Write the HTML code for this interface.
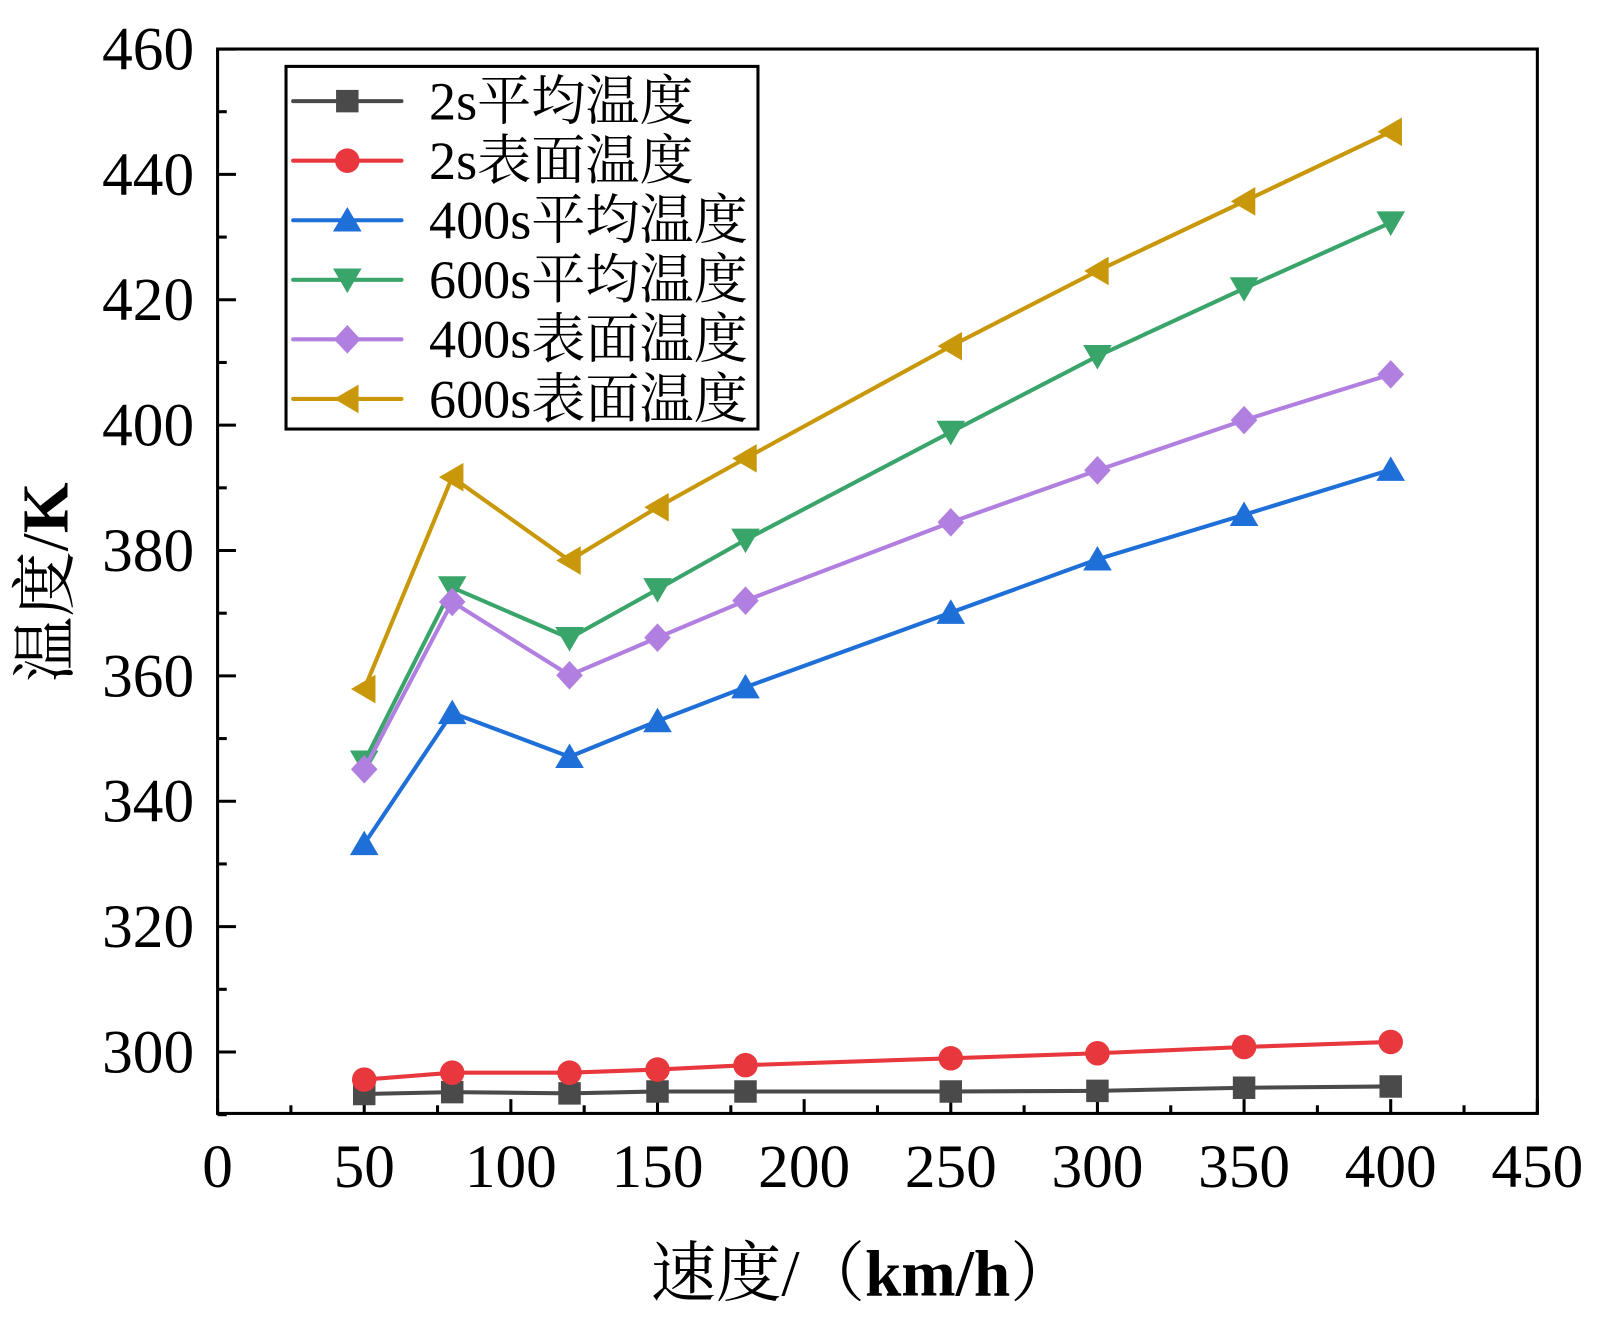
<!DOCTYPE html>
<html><head><meta charset="utf-8"><style>
html,body{margin:0;padding:0;background:#fff}
svg{display:block}
text{font-family:"Liberation Serif","Noto Serif CJK SC",serif}
</style></head><body>
<svg id="chart" width="1600" height="1321" viewBox="0 0 1600 1321">
<g transform="scale(1.0215)">
<g id="axes"></g>
<g id="series"></g>
<g id="legend"></g>
<text x="845" y="1268" font-size="64" text-anchor="middle">速度/（<tspan font-weight="bold">km/h</tspan>）</text>
<text transform="translate(66,570) rotate(-90)" font-size="64" text-anchor="middle">温度/<tspan font-weight="bold">K</tspan></text>
</g>
</svg>
<script>
const speeds=[50,80,120,150,180,250,300,350,400];
const avg2s=[293.3,293.6,293.4,293.7,293.7,293.7,293.8,294.3,294.5];
const surf2s=[295.6,296.7,296.7,297.2,297.9,299.0,299.8,300.8,301.6];
const avg400s=[333.2,354.1,347.1,352.8,358.2,370.1,378.6,385.7,392.9];
const avg600s=[346.3,374.1,366.0,373.8,381.7,398.9,411.0,421.8,432.3];
const surf400s=[345.1,371.8,360.1,366.1,372.0,384.5,392.8,400.8,408.1];
const surf600s=[357.9,391.7,378.4,386.9,394.7,412.6,424.6,435.7,446.8];
const seriesNames=["2s平均温度","2s表面温度","400s平均温度","600s平均温度","400s表面温度","600s表面温度"];
const xTicks=[0,50,100,150,200,250,300,350,400,450];
const yTicks=[300,320,340,360,380,400,420,440,460];
const NS="http://www.w3.org/2000/svg";
const L=213,R=1505,T=48,B=1090;
const xMin=0,xMax=450,yMin=290.2,yMax=460;
const sx=v=>L+(v-xMin)/(xMax-xMin)*(R-L);
const sy=v=>B-(v-yMin)/(yMax-yMin)*(B-T);
function mk(tag,at,parent){const e=document.createElementNS(NS,tag);for(const k in at)e.setAttribute(k,at[k]);parent.appendChild(e);return e;}
const axes=document.getElementById('axes');
let fr=mk('rect',{x:L,y:T,width:R-L,height:B-T,fill:'none',stroke:'#000','stroke-width':3},axes);


xTicks.forEach(v=>{
  let t=mk('line',{x1:sx(v),x2:sx(v),y1:B,y2:B-14,stroke:'#000','stroke-width':3},axes);
  
  
  if(v<450){
  let m=mk('line',{x1:sx(v+25),x2:sx(v+25),y1:B,y2:B-8,stroke:'#000','stroke-width':3},axes);
  
  }
  let tx=mk('text',{x:sx(v),y:1162,'font-size':60,'text-anchor':'middle'},axes);tx.textContent=v;
  
  
});
yTicks.forEach(v=>{
  let t=mk('line',{x1:L,x2:L+18,y1:sy(v),y2:sy(v),stroke:'#000','stroke-width':3},axes);
  
  
  let m=mk('line',{x1:L,x2:L+9,y1:sy(v-10),y2:sy(v-10),stroke:'#000','stroke-width':3},axes);
  
  
  let tx=mk('text',{x:190,y:sy(v)+20,'font-size':60,'text-anchor':'end'},axes);tx.textContent=v;
  
  
});
const colors=['#4a4a4a','#e8383d','#1f6fd8','#3aa56a','#b07fe0','#c9980a'];
const shapes=['square','circle','up','down','diamond','left'];
const data=[avg2s,surf2s,avg400s,avg600s,surf400s,surf600s];
function marker(shape,x,y,c,p){
  const s=13;let pts;
  if(shape==='square')return mk('rect',{x:x-11,y:y-11,width:22,height:22,fill:c},p);
  if(shape==='circle')return mk('circle',{cx:x,cy:y,r:12,fill:c},p);
  if(shape==='up')pts=[[x,y-s],[x+s+1,y+s-2],[x-s-1,y+s-2]];
  if(shape==='down')pts=[[x,y+s],[x+s+1,y-s+2],[x-s-1,y-s+2]];
  if(shape==='diamond')pts=[[x,y-s-1],[x+s,y],[x,y+s+1],[x-s,y]];
  if(shape==='left')pts=[[x-s,y],[x+s-2,y-s-1],[x+s-2,y+s+1]];
  return mk('polygon',{points:pts.map(q=>q.join(',')).join(' '),fill:c},p);
}
const sg=document.getElementById('series');
data.forEach((arr,i)=>{
  const g=mk('g',{},sg);
  
  
  let pl=mk('polyline',{points:arr.map((v,j)=>sx(speeds[j])+','+sy(v)).join(' '),fill:'none',stroke:colors[i],'stroke-width':4},g);
  
  
  arr.forEach((v,j)=>{let m=marker(shapes[i],sx(speeds[j]),sy(v),colors[i],g);
    
    });
});
const lg=document.getElementById('legend');
let lb=mk('rect',{x:280,y:65,width:462,height:355,fill:'#fff',stroke:'#000','stroke-width':3},lg);


seriesNames.forEach((n,i)=>{
  const y=99+i*58.3;
  const g=mk('g',{},lg);
  
  
  mk('line',{x1:287,x2:393,y1:y,y2:y,stroke:colors[i],'stroke-width':4,'stroke-linecap':'round'},g);
  marker(shapes[i],340,y,colors[i],g);
  let t=mk('text',{x:420,y:y+18,'font-size':53},g);t.textContent=n;
});
</script>
</body></html>
